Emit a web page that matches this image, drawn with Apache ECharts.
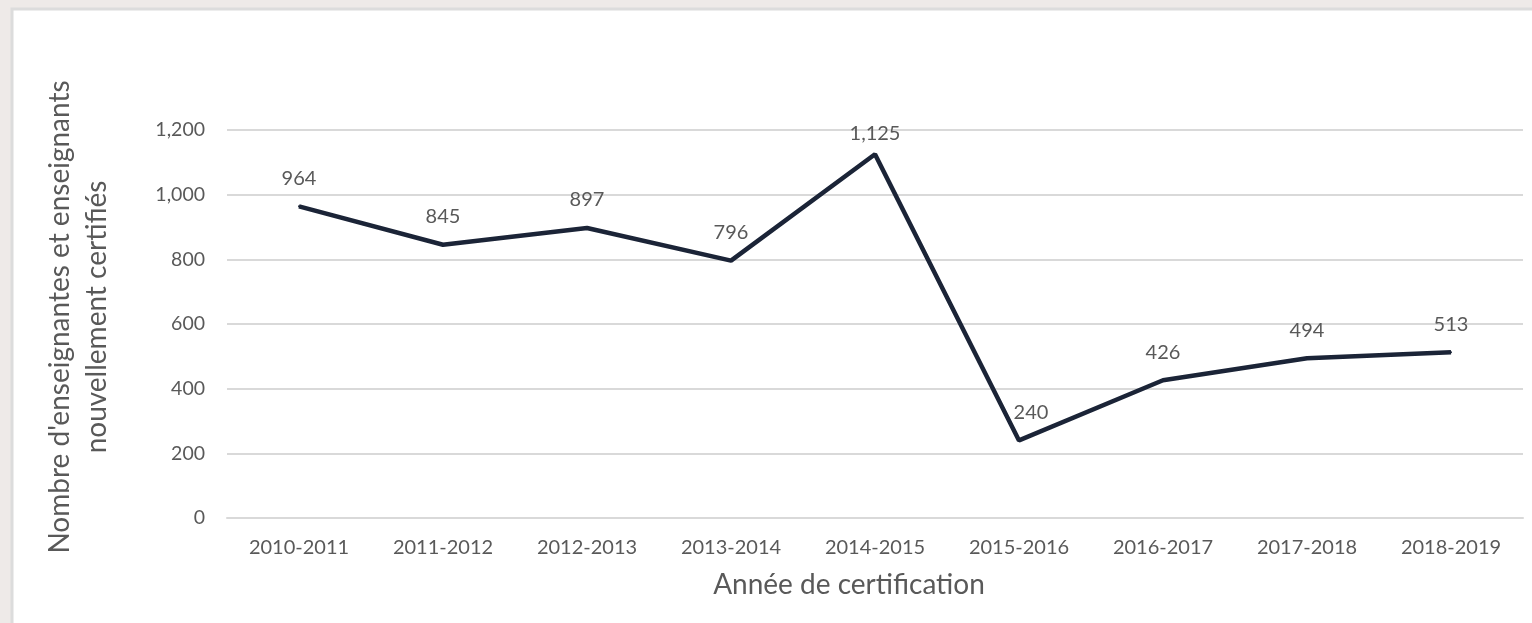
<!DOCTYPE html>
<html>
<head>
<meta charset="utf-8">
<script src="https://cdn.jsdelivr.net/npm/echarts@6/dist/echarts.min.js"></script>
<style>
  html, body { margin: 0; padding: 0; background: #eeeae8; }
  #main { width: 1532px; height: 623px; }
</style>
</head>
<body>
<div id="main"></div>
<script>
    var years = ['2010-2011', '2011-2012', '2012-2013', '2013-2014', '2014-2015',
        '2015-2016', '2016-2017', '2017-2018', '2018-2019'];
    var certifies = [964, 845, 897, 796, 1125, 240, 426, 494, 513];

    var fontFam = 'Lato, "Open Sans", sans-serif';
    var txtColor = '#595959';
    // quelques libellés décalés comme dans Excel (pic 2014-2015, creux 2015-2016)
    var labelOffsets = {4: [0, 7], 5: [12, 0]};
    var points = certifies.map(function (v, i) {
        return labelOffsets[i] ? {value: v, label: {offset: labelOffsets[i]}} : v;
    });

    var myChart = echarts.init(document.getElementById('main'));
    var option = {
        backgroundColor: '#eeeae8',
        animation: false,
        graphic: [{
            type: 'rect',
            z: -10,
            shape: {x: 12, y: 9, width: 1530, height: 630},
            style: {fill: '#ffffff', stroke: '#dcdcdc', lineWidth: 3}
        }],
        grid: {left: 227, right: 9, top: 130, bottom: 105},
        xAxis: {
            type: 'category',
            data: years,
            boundaryGap: true,
            name: 'Année de certification',
            nameLocation: 'middle',
            nameGap: 53,
            nameTextStyle: {color: txtColor, fontSize: 28, fontFamily: fontFam, padding: [0, 52, 0, 0]},
            axisLine: {lineStyle: {color: '#d9d9d9', width: 2}},
            axisTick: {show: false},
            axisLabel: {color: txtColor, fontSize: 20, fontFamily: fontFam, margin: 20}
        },
        yAxis: {
            type: 'value',
            min: 0,
            max: 1200,
            interval: 200,
            name: "Nombre d'enseignantes et enseignants\nnouvellement certifiés",
            nameLocation: 'middle',
            nameGap: 112,
            nameTextStyle: {
                color: txtColor, fontSize: 28, fontFamily: fontFam, lineHeight: 37,
                padding: [0, 0, 0, 14]
            },
            axisLine: {show: false},
            axisTick: {show: false},
            axisLabel: {
                color: txtColor, fontSize: 19.5, fontFamily: fontFam, margin: 22,
                formatter: function (v) { return v.toLocaleString('en-US'); }
            },
            splitLine: {lineStyle: {color: '#d9d9d9', width: 2}}
        },
        series: [{
            type: 'line',
            data: points,
            symbol: 'circle',
            symbolSize: 2,
            itemStyle: {color: '#1b2437'},
            lineStyle: {color: '#1b2437', width: 4.5},
            label: {
                show: true,
                position: 'top',
                distance: 17,
                color: txtColor,
                fontSize: 20,
                fontFamily: fontFam,
                formatter: function (p) { return p.value.toLocaleString('en-US'); }
            }
        }]
    };
    myChart.setOption(option);
</script>
</body>
</html>
